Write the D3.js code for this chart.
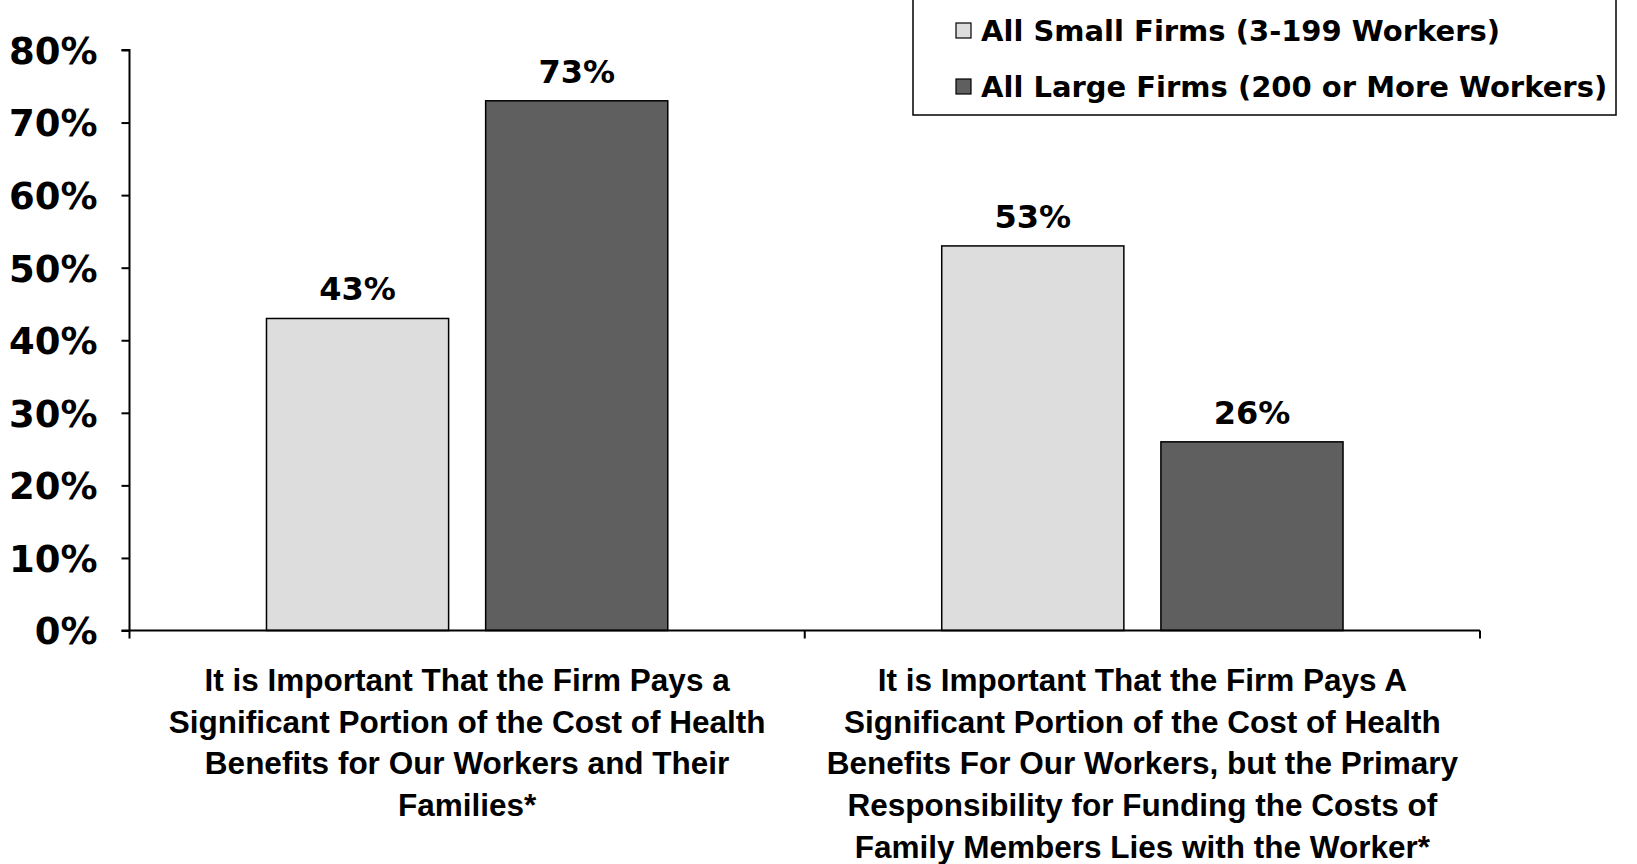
<!DOCTYPE html>
<html><head><meta charset="utf-8">
<script src="https://cdn.jsdelivr.net/npm/d3@7"></script>
<style>body{margin:0;background:#fff}svg{display:block}</style>
</head><body>
<script>
const categories = [
  ["It is Important That the Firm Pays a","Significant Portion of the Cost of Health","Benefits for Our Workers and Their","Families*"],
  ["It is Important That the Firm Pays A","Significant Portion of the Cost of Health","Benefits For Our Workers, but the Primary","Responsibility for Funding the Costs of","Family Members Lies with the Worker*"]
];
const seriesNames = ["All Small Firms (3-199 Workers)","All Large Firms (200 or More Workers)"];
const smallFirms = [43, 53];
const largeFirms = [73, 26];
const tickValues = [0,10,20,30,40,50,60,70,80];
const colors = ["#DDDDDD","#5F5F5F"];

(function(){
const W=1637,H=864;
const svg=d3.select("body").append("svg").attr("width",W).attr("height",H);
const mLeft=129.5,mRight=1480,mTop=50,mBottom=630.5;
const x=d3.scaleBand().domain([0,1]).range([mLeft,mRight]);
const xs=d3.scaleBand().domain([0,1]).range([0,x.bandwidth()]).paddingInner(0.169).paddingOuter(0.625);
const y=d3.scaleLinear().domain([0,80]).range([mBottom,mTop]);
const bold="'DejaVu Sans', Verdana, sans-serif";
const data=[smallFirms,largeFirms];

const g=svg.append("g");
data.forEach((vals,si)=>{
  vals.forEach((v,ci)=>{
    const bx=x(ci)+xs(si);
    g.append("rect").attr("x",bx).attr("y",y(v)).attr("width",xs.bandwidth()).attr("height",y(0)-y(v))
      .attr("fill",colors[si]).attr("stroke","#000").attr("stroke-width",1.5);
    g.append("text").attr("x",bx+xs.bandwidth()/2).attr("y",y(v)-18).attr("text-anchor","middle")
      .attr("font-family",bold).attr("font-weight","bold").attr("font-size",32).text(v+"%");
  });
});

const ya=svg.append("g").attr("transform",`translate(${mLeft},0)`)
  .call(d3.axisLeft(y).tickValues(tickValues).tickSize(8).tickPadding(10).tickFormat(d=>d+"%"));
ya.select(".domain").attr("stroke","#000").attr("stroke-width",2).attr("d",`M-8,${mTop}H0V${mBottom}`);
ya.selectAll(".tick line").attr("stroke","#000").attr("stroke-width",2);
ya.selectAll(".tick text").attr("font-family",bold).attr("font-weight","bold").attr("font-size",37).attr("fill","#000").attr("dy","0.36em").attr("x",-32);

const xa=svg.append("g").attr("transform",`translate(0,${mBottom})`);
xa.append("line").attr("x1",mLeft-8).attr("x2",mRight).attr("stroke","#000").attr("stroke-width",2);
[mLeft, mLeft+x.bandwidth(), mRight].forEach(px=>{
  xa.append("line").attr("x1",px).attr("x2",px).attr("y1",0).attr("y2",8).attr("stroke","#000").attr("stroke-width",2);
});

const catFont="'Liberation Sans', Arial, sans-serif";
categories.forEach((lines,ci)=>{
  const t=svg.append("text").attr("text-anchor","middle").attr("font-family",catFont).attr("font-weight","bold").attr("font-size",31.5);
  lines.forEach((l,i)=>{
    t.append("tspan").attr("x",x(ci)+x.bandwidth()/2).attr("y",691+i*41.7).text(l);
  });
});

const lg=svg.append("g");
lg.append("rect").attr("x",913).attr("y",-2).attr("width",703).attr("height",117).attr("fill","#fff").attr("stroke","#000").attr("stroke-width",1.5);
seriesNames.forEach((n,i)=>{
  const cy=[31,87][i];
  lg.append("rect").attr("x",956).attr("y",cy-8).attr("width",15).attr("height",15).attr("fill",colors[i]).attr("stroke","#000").attr("stroke-width",1.2);
  lg.append("text").attr("x",981).attr("y",cy).attr("dy","0.36em").attr("font-family",bold).attr("font-weight","bold").attr("font-size",29).text(n);
});
})();
</script>
</body></html>
